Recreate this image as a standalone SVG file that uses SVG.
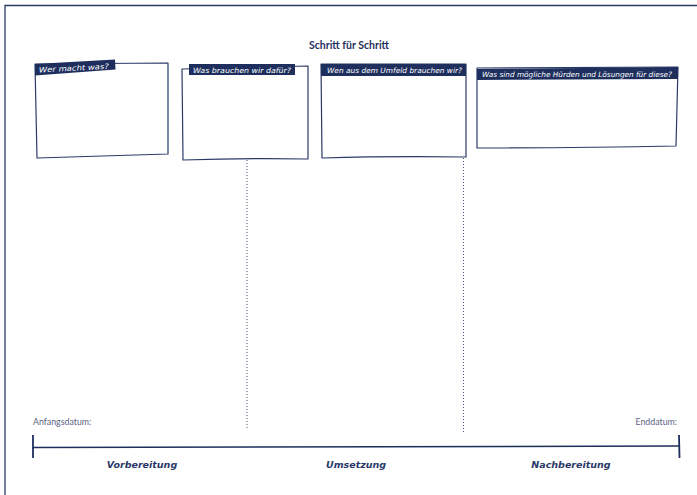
<svg xmlns="http://www.w3.org/2000/svg" width="697" height="495" viewBox="0 0 697 495">
<style>
.frame{fill:none;stroke:#2b3a68;stroke-width:1.3}
.box{fill:none;stroke:#2b3a68;stroke-width:1.2;stroke-linejoin:round}
.banner{fill:#1e2f5e}
.btxt{font-family:"DejaVu Sans",sans-serif;font-style:italic;font-size:7.3px;fill:#ffffff}
.dot{stroke:#4a557a;stroke-width:1;stroke-dasharray:1 2;fill:none}
.tl{stroke:#1e2f5e;stroke-width:1.5;fill:none}
.tick{stroke:#1e2f5e;stroke-width:1.8;fill:none}
.date{font-family:"Lato","Liberation Sans",sans-serif;font-size:8.8px;fill:#5a6385}
.phase{font-family:"DejaVu Sans",sans-serif;font-style:italic;font-weight:bold;font-size:9.5px;fill:#2b3a68;text-anchor:middle}
.title{font-family:"Lato","Liberation Sans",sans-serif;font-weight:bold;font-size:10.5px;fill:#1e2f5e;text-anchor:middle}
</style>
<path class="frame" d="M5,495 V5.5 H697"/>
<text class="title" x="349" y="49">Schritt für Schritt</text>
<g id="box1">
<path class="box" d="M35,64 L168,63 L168,154 Q100,156 37,158 Z"/>
<polygon class="banner" points="35,64 115,59.5 115.5,69.5 35,75.5"/>
<text class="btxt" x="39" y="72.5" transform="rotate(-3 39 72.5)" textLength="70" lengthAdjust="spacingAndGlyphs">Wer macht was?</text>
</g>
<g id="box2">
<path class="box" d="M182,69 L308,66 L308,159 Q245,158 183,160 Z"/>
<rect class="banner" x="189" y="64" width="106" height="11"/>
<text class="btxt" x="193" y="72.5" textLength="98" lengthAdjust="spacingAndGlyphs">Was brauchen wir dafür?</text>
</g>
<g id="box3">
<path class="box" d="M321,64 L466,64 L466,157 Q390,156 322,158 Z"/>
<rect class="banner" x="321" y="64" width="145" height="12"/>
<text class="btxt" x="327" y="73" textLength="135" lengthAdjust="spacingAndGlyphs">Wen aus dem Umfeld brauchen wir?</text>
</g>
<g id="box4">
<path class="box" d="M477,68 L678,67 L676,146 Q580,148 477,148 Z"/>
<polygon class="banner" points="477,69 678,67 678,79 477,80"/>
<text class="btxt" x="482" y="77" textLength="190" lengthAdjust="spacingAndGlyphs">Was sind mögliche Hürden und Lösungen für diese?</text>
</g>
<g id="connectors">
<line class="dot" x1="247" y1="160" x2="247" y2="430"/>
<line class="dot" x1="463.5" y1="158" x2="463.5" y2="432"/>
</g>
<g id="timeline">
<path class="tl" d="M33,447.5 L679,446"/>
<line class="tick" x1="33" y1="435" x2="33" y2="458"/>
<line class="tick" x1="679" y1="435" x2="679.5" y2="458"/>
<text class="date" x="33" y="425">Anfangsdatum:</text>
<text class="date" x="677" y="425" text-anchor="end">Enddatum:</text>
<text class="phase" x="142" y="468">Vorbereitung</text>
<text class="phase" x="356" y="468">Umsetzung</text>
<text class="phase" x="571" y="468">Nachbereitung</text>
</g>
</svg>
